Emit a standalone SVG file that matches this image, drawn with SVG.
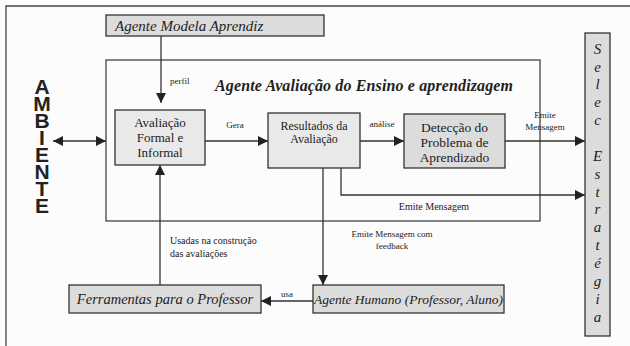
<svg xmlns="http://www.w3.org/2000/svg" width="630" height="346" viewBox="0 0 630 346" font-family="'Liberation Serif', 'DejaVu Serif', serif">
<style>
.box{fill:#dcdcdc;stroke:#333;stroke-width:1.3}
.lbox{fill:#e9e9e9;stroke:#333;stroke-width:1.3}
.frame{fill:none;stroke:#444;stroke-width:1.3}
.ln{fill:none;stroke:#333;stroke-width:1.3}
text{fill:#222}
.it{font-style:italic}
.sm{font-size:9px}
.amb{font-family:"Liberation Sans",Arial,sans-serif;font-weight:bold;font-size:21px;fill:#222}
</style>
<defs>
<marker id="ah" viewBox="0 0 10 10" refX="10" refY="5" markerWidth="10" markerHeight="10" markerUnits="userSpaceOnUse" orient="auto-start-reverse">
<path d="M0,0 L10,5 L0,10 z" fill="#222"/>
</marker>
</defs>
<rect width="630" height="346" fill="#fcfcfc"/>
<path class="frame" d="M6,352 V6 H636"/>

<g id="ambiente">
<text class="amb" x="42" y="75" style="writing-mode:vertical-rl;text-orientation:upright;letter-spacing:-6px">AMBIENTE</text>
</g>

<g id="agente-modela">
<rect class="box" x="106" y="15" width="218" height="21"/>
<text class="it" x="115" y="31" font-size="15">Agente Modela Aprendiz</text>
</g>

<g id="agente-avaliacao">
<rect class="frame" x="106" y="60" width="434" height="161"/>
<text class="it" x="215" y="91" font-size="16" font-weight="bold" textLength="298" lengthAdjust="spacing">Agente Avaliação do Ensino e aprendizagem</text>
</g>

<g id="avaliacao-formal">
<rect class="lbox" x="115" y="110" width="90" height="55"/>
<text x="160" y="127" font-size="13" text-anchor="middle">Avaliação</text>
<text x="160" y="142" font-size="13" text-anchor="middle">Formal e</text>
<text x="160" y="157" font-size="13" text-anchor="middle">Informal</text>
</g>

<g id="resultados">
<rect class="lbox" x="268" y="113" width="92" height="55"/>
<text x="314" y="130" font-size="12" text-anchor="middle">Resultados da</text>
<text x="314" y="143" font-size="12" text-anchor="middle">Avaliação</text>
</g>

<g id="deteccao">
<rect class="box" x="404" y="114" width="101" height="54"/>
<text x="454.5" y="132" font-size="13.5" text-anchor="middle">Detecção do</text>
<text x="454.5" y="147" font-size="13.5" text-anchor="middle">Problema de</text>
<text x="454.5" y="162" font-size="13.5" text-anchor="middle">Aprendizado</text>
</g>

<g id="selec-estrategia">
<rect class="box" x="585" y="33" width="25" height="303"/>
<g class="it" font-size="15" text-anchor="middle">
<text x="597.5" y="54">S</text>
<text x="597.5" y="72">e</text>
<text x="597.5" y="89">l</text>
<text x="597.5" y="107">e</text>
<text x="597.5" y="125">c</text>
<text x="597.5" y="161">E</text>
<text x="597.5" y="179">s</text>
<text x="597.5" y="197">t</text>
<text x="597.5" y="214">r</text>
<text x="597.5" y="232">a</text>
<text x="597.5" y="250">t</text>
<text x="597.5" y="268">é</text>
<text x="597.5" y="286">g</text>
<text x="597.5" y="304">i</text>
<text x="597.5" y="322">a</text>
</g>
</g>

<g id="agente-humano">
<rect class="box" x="313" y="285" width="191" height="28"/>
<text class="it" x="408.5" y="304" font-size="13.5" text-anchor="middle">Agente Humano (Professor, Aluno)</text>
</g>

<g id="ferramentas">
<rect class="box" x="69" y="285" width="192" height="28"/>
<text class="it" x="165" y="304" font-size="14.5" text-anchor="middle">Ferramentas para o Professor</text>
</g>

<g id="connectors">
<path class="ln" d="M161,36 V103" marker-end="url(#ah)"/>
<path class="ln" d="M53,141 H106" marker-start="url(#ah)" marker-end="url(#ah)"/>
<path class="ln" d="M205,141 H268" marker-end="url(#ah)"/>
<path class="ln" d="M360,141 H404" marker-end="url(#ah)"/>
<path class="ln" d="M505,141 H585" marker-end="url(#ah)"/>
<path class="ln" d="M341,168 V195 H585" marker-end="url(#ah)"/>
<path class="ln" d="M323,168 V285" marker-end="url(#ah)"/>
<path class="ln" d="M313,301 H261" marker-end="url(#ah)"/>
<path class="ln" d="M160,285 V165" marker-end="url(#ah)"/>
</g>

<g id="labels" class="sm">
<text x="170" y="84">perfil</text>
<text x="235" y="128" text-anchor="middle">Gera</text>
<text x="382" y="127" text-anchor="middle">análise</text>
<text x="545" y="118" text-anchor="middle">Emite</text>
<text x="545" y="130" text-anchor="middle">Mensagem</text>
<text x="434" y="210" text-anchor="middle" font-size="10">Emite Mensagem</text>
<text x="392" y="237" text-anchor="middle">Emite Mensagem com</text>
<text x="392" y="249" text-anchor="middle">feedback</text>
<text x="170" y="244" font-size="10">Usadas na construção</text>
<text x="170" y="257" font-size="10">das avaliações</text>
<text x="287" y="297" text-anchor="middle">usa</text>
</g>
</svg>
